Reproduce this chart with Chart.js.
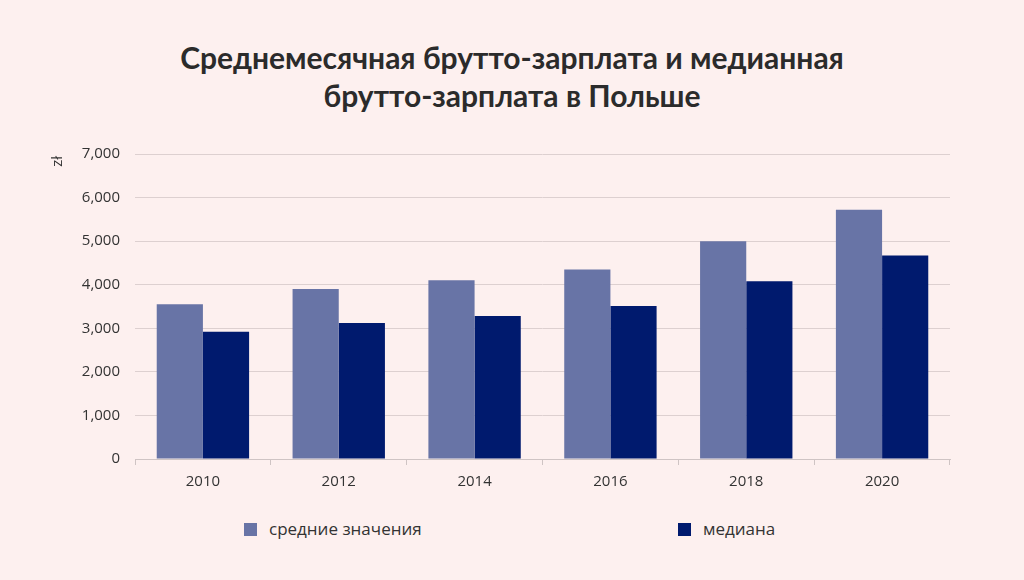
<!DOCTYPE html>
<html><head><meta charset="utf-8">
<script src="https://cdn.jsdelivr.net/npm/chart.js@4"></script>
<style>
body{margin:0;background:#fdf0ef;width:1024px;height:580px;overflow:hidden;position:relative;font-family:Lato,"Open Sans",sans-serif}
#title{position:absolute;top:38px;left:0;width:1024px;text-align:center;font-weight:bold;font-size:30px;line-height:38px;color:#2b2b2b}
#wrap{position:absolute;left:0;top:130px;width:1024px;height:380px}
.leg{position:absolute;top:517px;font-size:17px;color:#333;font-family:"Open Sans",sans-serif}
.leg span{display:inline-block;width:13px;height:13px;margin-right:12px;vertical-align:-1px}
</style></head><body>
<div id="title">Среднемесячная брутто-зарплата и медианная<br>брутто-зарплата в Польше</div>
<div id="wrap"><canvas id="c"></canvas></div>
<div class="leg" style="left:244px"><span style="background:#6874a6"></span>средние значения</div>
<div class="leg" style="left:678px"><span style="background:#001a6e"></span>медиана</div>
<script>
const categories=["2010","2012","2014","2016","2018","2020"];
const meanValues=[3550,3900,4100,4350,5000,5720];
const medianValues=[2920,3120,3280,3510,4080,4670];
const yTicks=[0,1000,2000,3000,4000,5000,6000,7000];
new Chart(document.getElementById('c'),{type:'bar',
data:{labels:categories,datasets:[
{label:'средние значения',data:meanValues,backgroundColor:'#6874a6'},
{label:'медиана',data:medianValues,backgroundColor:'#001a6e'}]},
options:{responsive:true,maintainAspectRatio:false,animation:false,
layout:{padding:{left:0,right:74,top:22,bottom:0}},
plugins:{legend:{display:false},tooltip:{enabled:false}},
datasets:{bar:{categoryPercentage:0.68,barPercentage:1}},
scales:{
x:{grid:{drawOnChartArea:false,tickLength:6,offset:true,color:'#cfc4c4'},border:{color:'#cfc4c4'},
 ticks:{color:'#333',font:{family:'Open Sans',size:15},padding:8},afterFit:s=>{s.height=51}},
y:{min:0,max:7000,afterBuildTicks:s=>{s.ticks=yTicks.map(v=>({value:v}))},
 grid:{color:'#ddd0d0',drawTicks:false},border:{display:false},
 ticks:{color:'#333',font:{family:'Open Sans',size:15},padding:15},
 title:{display:false},afterFit:s=>{s.width=135}}}},
plugins:[{id:'ytitle',afterDraw(ch){const x=ch.ctx;x.save();x.translate(58,ch.chartArea.top+2);x.rotate(-Math.PI/2);
x.font='15px "Open Sans"';x.fillStyle='#333';x.textAlign='right';x.textBaseline='middle';x.fillText('zł',0,0);x.restore();}}]
});
</script></body></html>
